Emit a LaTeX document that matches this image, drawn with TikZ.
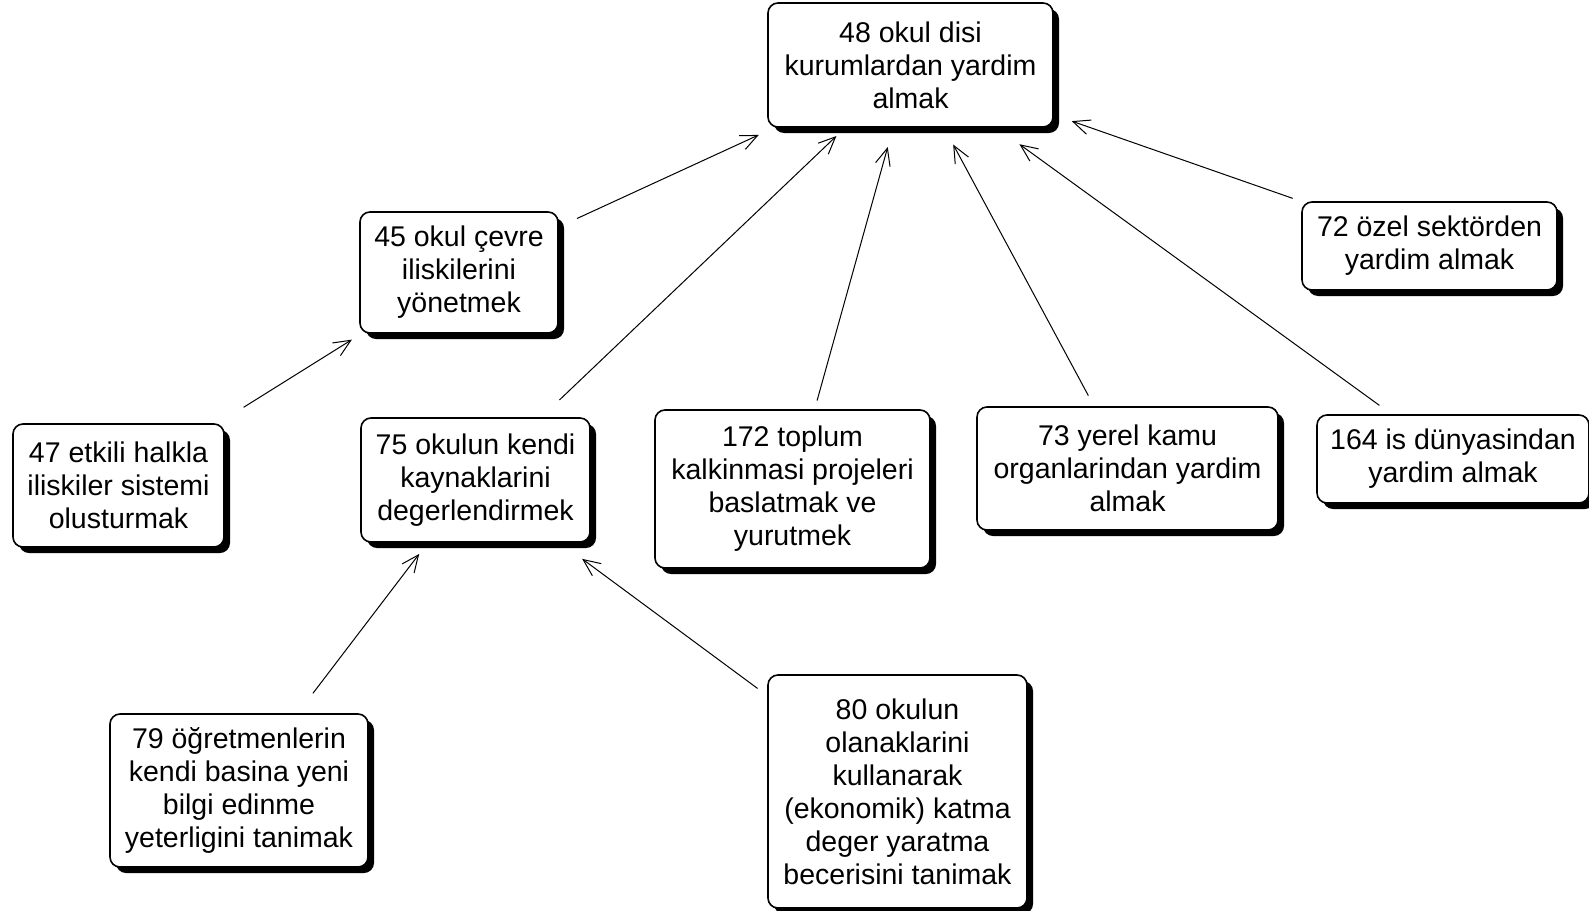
\documentclass[tikz,border=0pt]{standalone}
\usepackage{fontspec}
\setmainfont{Liberation Sans}
\usetikzlibrary{arrows.meta,shadows}
\begin{document}
\begin{tikzpicture}[x=1pt,y=-1pt,
  box/.style={draw, line width=1.6pt, rounded corners=10pt, fill=white,
    align=center, inner sep=0pt,
    drop shadow={shadow xshift=6pt, shadow yshift=-6pt, fill=black, opacity=1},
    font=\fontsize{28.5}{33}\selectfont},
  link/.style={line width=1pt, -{Straight Barb[length=17pt,width=15pt]}}]
  \useasboundingbox (0,0) rectangle (1589,910);
  % top goal
  \node[box, minimum width=285pt, minimum height=124pt] (n48) at (910.5,65)
    {48 okul disi\\kurumlardan yardim\\almak};
  % middle row
  \node[box, minimum width=198pt, minimum height=121pt] (n45) at (459,272.5)
    {45 okul çevre\\iliskilerini\\yönetmek};
  \node[box, minimum width=255pt, minimum height=88pt] (n72) at (1429.5,246)
    {72 özel sektörden\\yardim almak};
  \node[box, minimum width=211pt, minimum height=123pt] (n47) at (118.5,485.5)
    {47 etkili halkla\\iliskiler sistemi\\olusturmak};
  \node[box, minimum width=229pt, minimum height=124pt] (n75) at (475.5,480)
    {75 okulun kendi\\kaynaklarini\\degerlendirmek};
  \node[box, minimum width=275pt, minimum height=158pt] (n172) at (792.5,489)
    {172 toplum\\kalkinmasi projeleri\\baslatmak ve\\yurutmek};
  \node[box, minimum width=301pt, minimum height=123pt] (n73) at (1127.5,468.5)
    {73 yerel kamu\\organlarindan yardim\\almak};
  \node[box, minimum width=272pt, minimum height=88pt] (n164) at (1453,459)
    {164 is dünyasindan\\yardim almak};
  % bottom row
  \node[box, minimum width=258pt, minimum height=153pt] (n79) at (239,790.5)
    {79 öğretmenlerin\\kendi basina yeni\\bilgi edinme\\yeterligini tanimak};
  \node[box, minimum width=259pt, minimum height=233pt] (n80) at (897.5,791.5)
    {80 okulun\\olanaklarini\\kullanarak\\(ekonomik) katma\\deger yaratma\\becerisini tanimak};
  % links
  \draw[link, shorten <=20pt, shorten >=17pt] (n45) -- (n48);
  \draw[link, shorten <=30pt, shorten >=11pt] (n47) -- (n45);
  \draw[link, shorten <=25pt, shorten >=12pt] (n75) -- (n48);
  \draw[link, shorten <=9pt, shorten >=20pt] (n172) -- (n48);
  \draw[link, shorten <=12pt, shorten >=19pt] (n73) -- (n48);
  \draw[link, shorten <=15pt, shorten >=28pt] (n164) -- (n48);
  \draw[link, shorten <=9pt, shorten >=19pt] (n72) -- (n48);
  \draw[link, shorten <=25pt, shorten >=14pt] (n79) -- (n75);
  \draw[link, shorten <=12pt, shorten >=27pt] (n80) -- (n75);
\end{tikzpicture}
\end{document}
